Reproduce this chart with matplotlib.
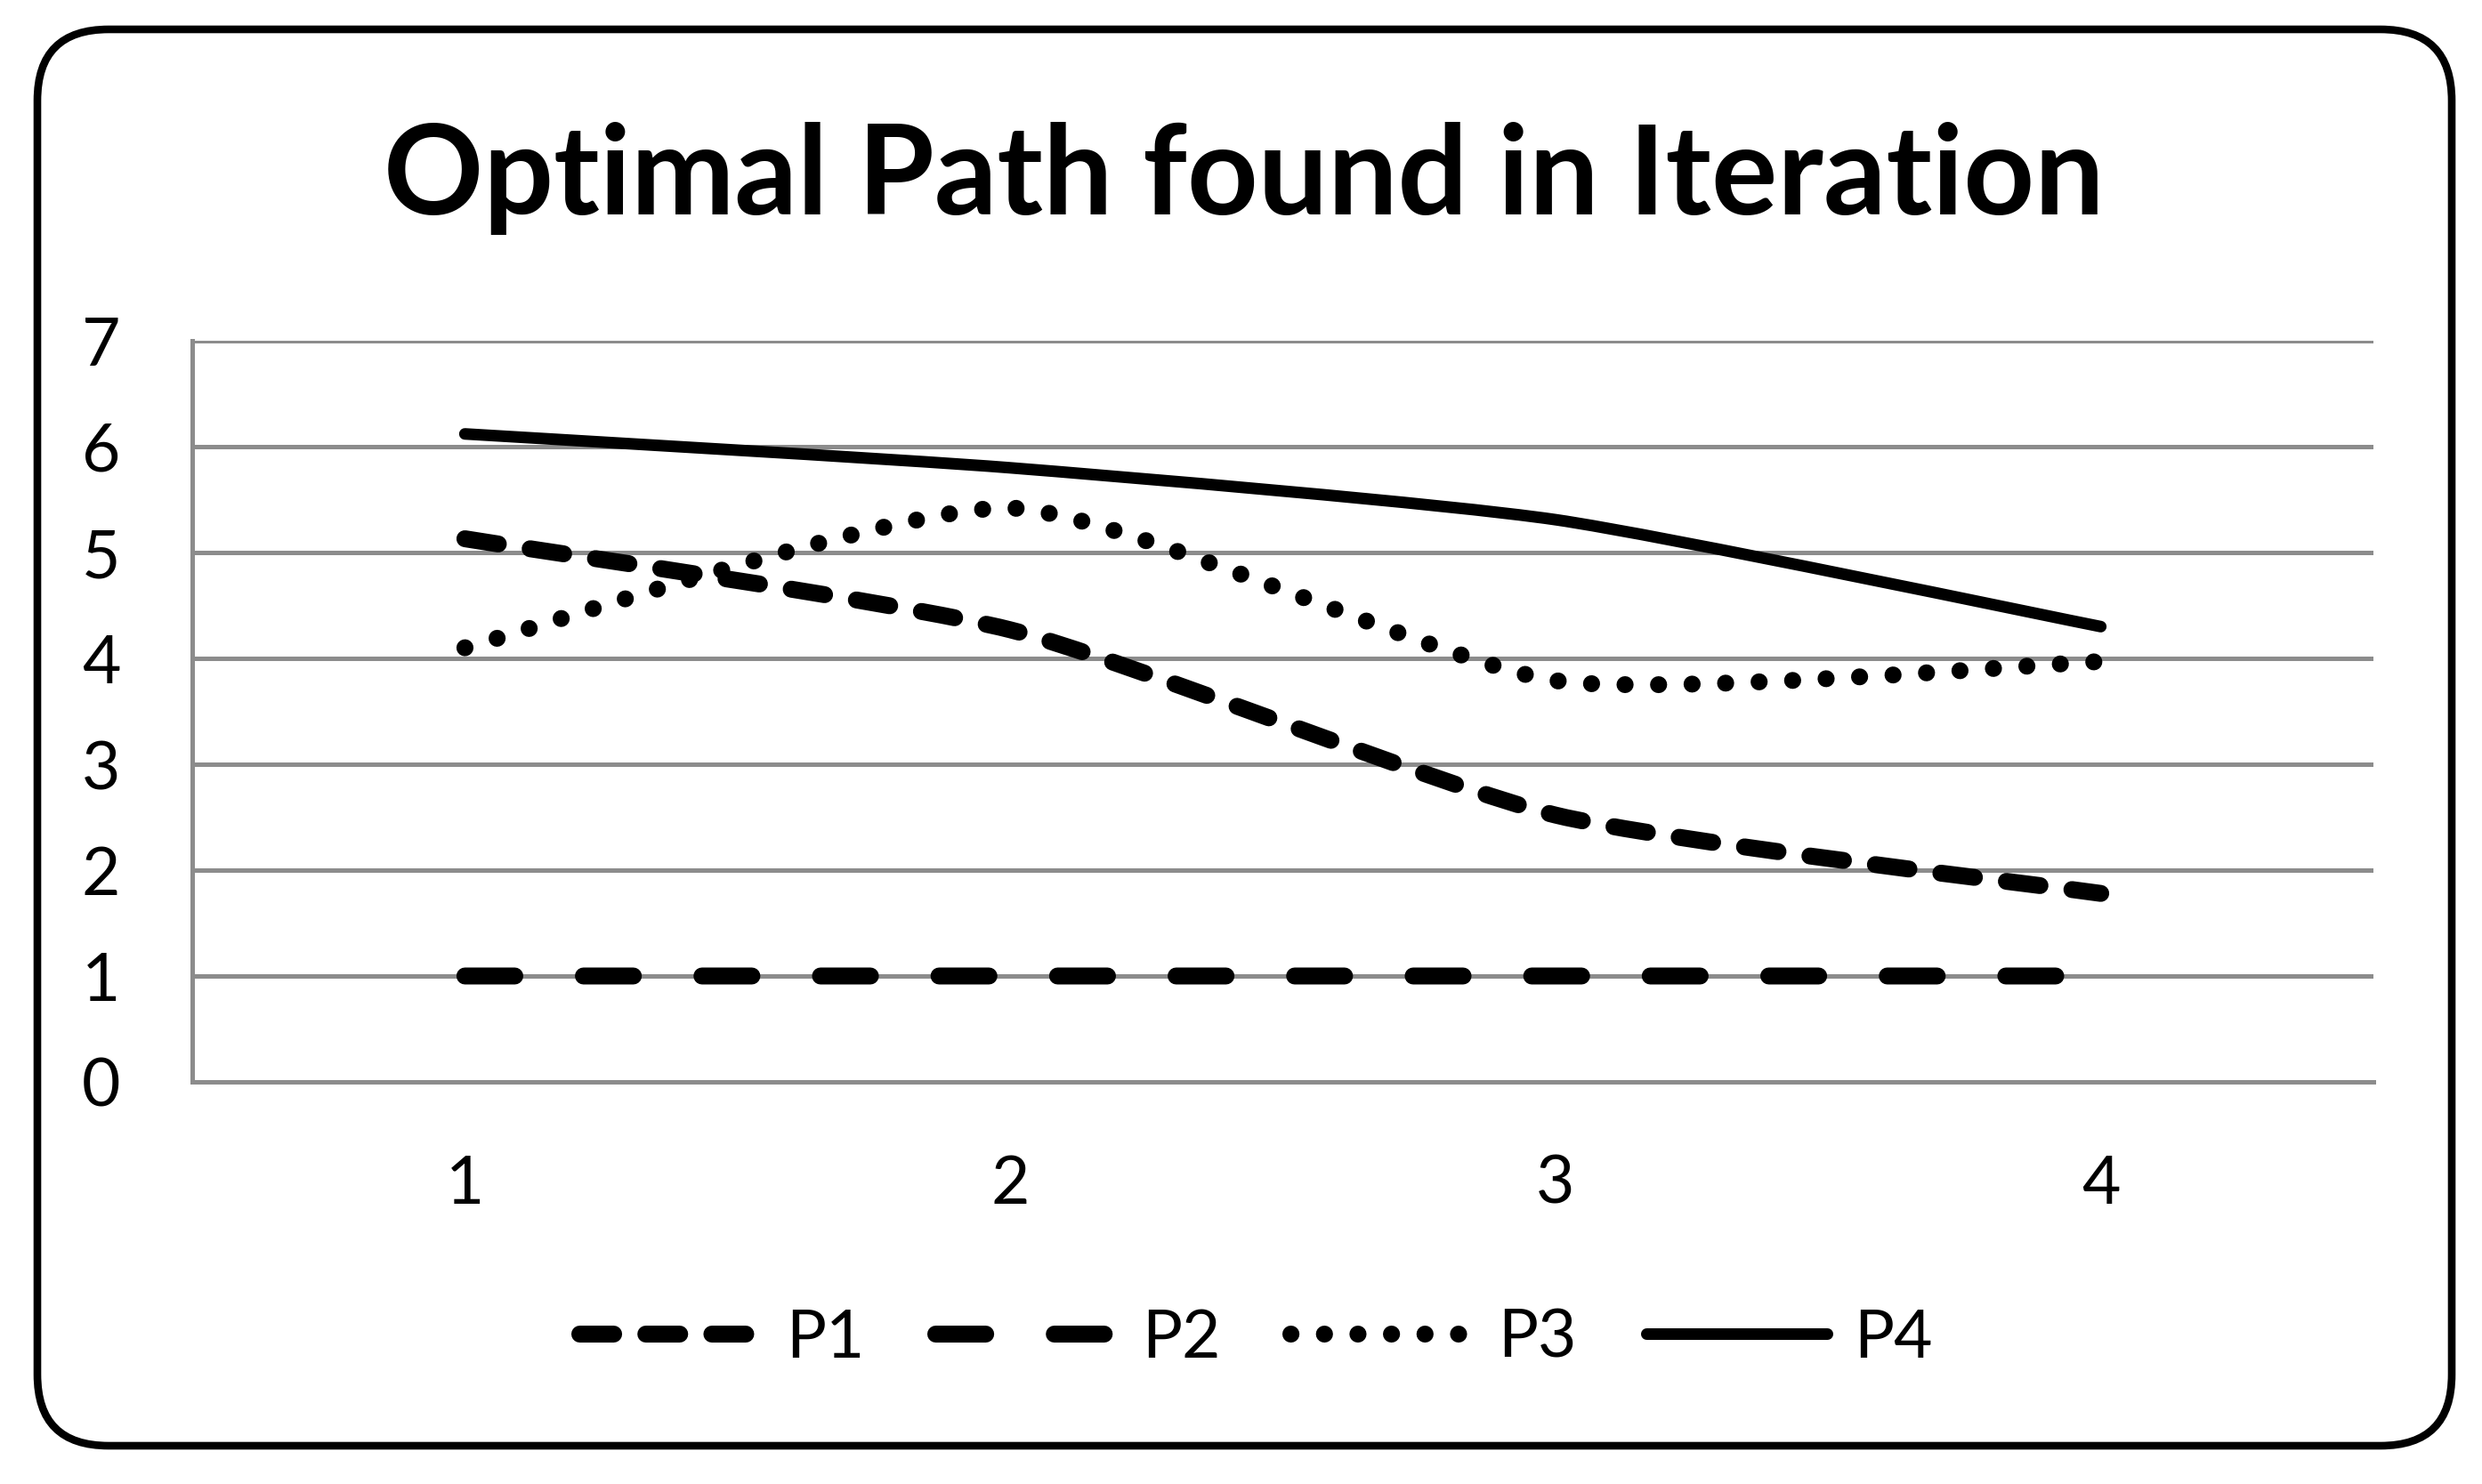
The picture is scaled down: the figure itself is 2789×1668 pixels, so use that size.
import numpy as np
import matplotlib
matplotlib.use("Agg")
import matplotlib.pyplot as plt
from matplotlib.path import Path
from matplotlib.patches import PathPatch, FancyBboxPatch
from matplotlib.lines import Line2D

plt.rcParams['font.family'] = ['Lato', 'DejaVu Sans']

# data
iterations = [1, 2, 3, 4]
p1 = [5.13, 4.27, 2.52, 1.78]
p2 = [1, 1, 1, 1]
p3 = [4.10, 5.42, 3.79, 3.97]
p4 = [6.12, 5.80, 5.31, 4.30]
series_names = ['P1', 'P2', 'P3', 'P4']
yticks = [0, 1, 2, 3, 4, 5, 6, 7]

W, H, DPI = 2789, 1668, 100
fig = plt.figure(figsize=(W / DPI, H / DPI), dpi=DPI)
ax = fig.add_axes([216 / W, 1 - 1216 / H, (2667 - 216) / W, (1216 - 383) / H])

grid_col = '#8c8c8c'


def smooth_path(x, y, k=10.0):
    # excel style smoothed line: cubic bezier through the points
    pts = np.column_stack([x, y]).astype(float)
    n = len(pts)
    verts = [pts[0]]
    codes = [Path.MOVETO]
    for i in range(n - 1):
        p0 = pts[i - 1] if i > 0 else pts[i]
        p3_ = pts[i + 2] if i + 2 < n else pts[i + 1]
        c1 = pts[i] + (pts[i + 1] - p0) / k
        c2 = pts[i + 1] - (p3_ - pts[i]) / k
        verts += [c1, c2, pts[i + 1]]
        codes += [Path.CURVE4] * 3
    return Path(verts, codes)


styles = [
    dict(lw=13.7, ls=(0, (2.0, 1.9))),
    dict(lw=13.7, ls=(0, (2.95, 4.05))),
    dict(lw=13.7, ls=(0, (0.01, 1.97))),
    dict(lw=9.4, ls='-'),
]

handles = []
for vals, st, name in zip([p1, p2, p3, p4], styles, series_names):
    patch = PathPatch(smooth_path(iterations, vals), fill=False, edgecolor='black',
                      linewidth=st['lw'], linestyle=st['ls'], capstyle='round',
                      joinstyle='round', zorder=3)
    ax.add_patch(patch)
    handles.append(Line2D([], [], color='black', lw=st['lw'], ls=st['ls'],
                          solid_capstyle='round', dash_capstyle='round', label=name))

ax.set_xlim(0.5, 4.5)
ax.set_ylim(0, 7)
ax.set_yticks(yticks)
ax.set_xticks(iterations)
ax.grid(axis='y', color=grid_col, lw=3.6)
ax.set_axisbelow(True)
for s in ['top', 'right']:
    ax.spines[s].set_visible(False)
for s in ['left', 'bottom']:
    ax.spines[s].set_color(grid_col)
    ax.spines[s].set_linewidth(3.6)
ax.tick_params(axis='both', length=0, labelsize=54, colors='black')
ax.tick_params(axis='y', pad=58)
ax.tick_params(axis='x', pad=58)

fig.text(1398 / W, 1 - 201 / H, 'Optimal Path found in Iteration', ha='center', va='center',
         fontsize=100, fontweight='bold')

fig.legend(handles=handles, loc='center', bbox_to_anchor=(1411 / W, 1 - 1504 / H), ncol=4,
           frameon=False, fontsize=54, handlelength=2.7, handletextpad=0.4, columnspacing=1.05)

border = FancyBboxPatch((42 / W, 1 - 1625 / H), (2755 - 42) / W, (1625 - 33) / H,
                        boxstyle='round,pad=0,rounding_size=%f' % (80 / W),
                        mutation_aspect=W / H, transform=fig.transFigure,
                        facecolor='none', edgecolor='black', linewidth=6.2)
fig.patches.append(border)

fig.savefig('out.png', dpi=DPI, facecolor='white')
